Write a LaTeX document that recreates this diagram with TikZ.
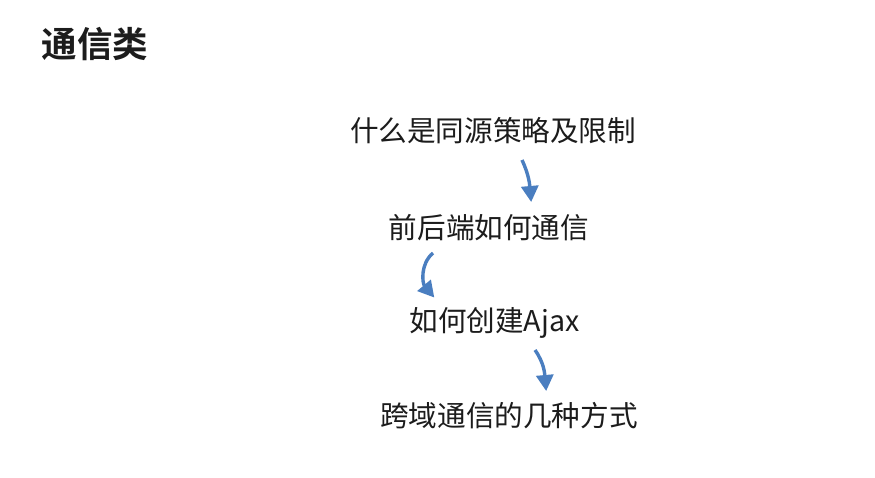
\documentclass[tikz,border=0pt]{standalone}
\usepackage{fontspec}
\setmainfont{Noto Sans CJK SC}[BoldFont={* Bold}]
\usetikzlibrary{arrows.meta}
\definecolor{txt}{HTML}{1C1C1C}
\definecolor{arr}{HTML}{4A7EC0}
\tikzset{
  item/.style={font=\fontsize{28.6}{32}\selectfont, text=txt, inner sep=0pt, anchor=center},
  ttl/.style={font=\fontsize{35.5}{38}\selectfont\bfseries, text=txt, inner sep=0pt, anchor=center},
  flow/.style={draw=arr, line width=3.4pt, -{Triangle[length=16pt,width=17pt]}, shorten >=-2pt}
}
\begin{document}
\begin{tikzpicture}[x=1pt,y=-1pt]
\useasboundingbox[fill=white] (0,0) rectangle (875,477);
\node[ttl] (title) at (95,44) {通信类};
\node[item] (n1) at (493,131) {什么是同源策略及限制};
\node[item] (n2) at (489,228) {前后端如何通信};
\node[item] (n3) at (494.5,323) {如何创建Ajax};
\node[item] (n4) at (509,416) {跨域通信的几种方式};
\coordinate (a1s) at (522,160);
\coordinate (a1e) at (531,200);
\coordinate (a2s) at (433,253);
\coordinate (a2e) at (433,296);
\coordinate (a3s) at (535,350);
\coordinate (a3e) at (546,389);
\draw[flow] (a1s) to[out=-65, in=95] (a1e);
\draw[flow] (a2s) to[out=220, in=130] (a2e);
\draw[flow] (a3s) to[out=-55, in=95] (a3e);
\end{tikzpicture}
\end{document}
